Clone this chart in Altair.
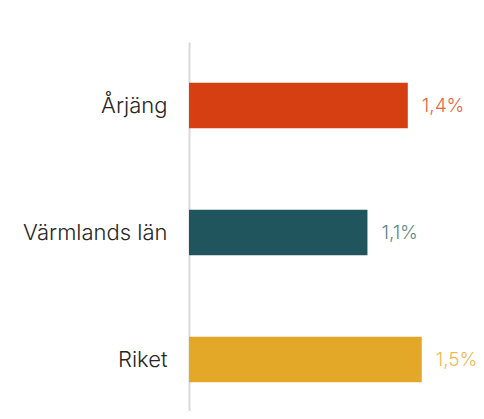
import altair as alt
import pandas as pd

categories = ["Årjäng", "Värmlands län", "Riket"]
values = [1.41, 1.15, 1.50]
labels = ["1,4%", "1,1%", "1,5%"]
bar_colors = ["#D63F11", "#20555E", "#E3A828"]
label_colors = ["#E8663F", "#5E8588", "#F0B854"]

df = pd.DataFrame({"cat": categories, "val": values, "lab": labels,
                   "bc": bar_colors, "lc": label_colors})

FONT = "Inter"

y = alt.Y("cat:N", sort=categories, title=None,
          scale=alt.Scale(paddingInner=0.64, paddingOuter=0.32, range=[0, 381]),
          axis=alt.Axis(domainColor="#d9d9d9", domainWidth=2, ticks=False,
                        labelFontSize=22, labelColor="#262626", labelFont=FONT,
                        labelFontWeight=300, labelPadding=22, grid=False))
x = alt.X("val:Q", title=None, scale=alt.Scale(domain=[0, 1.74], nice=False),
          axis=None)

bars = alt.Chart(df).mark_bar().encode(
    x=x, y=y, color=alt.Color("bc:N", scale=None))
text = alt.Chart(df).mark_text(align="left", dx=14, fontSize=19, font=FONT,
                               fontWeight=300, baseline="middle").encode(
    x=x, y=y, text="lab:N", color=alt.Color("lc:N", scale=None))

chart = (bars + text).properties(
    width=270, height=369,
    padding={"left": 181, "top": 34, "right": 17, "bottom": 0},
    autosize=alt.AutoSizeParams(type="none"),
).configure_view(stroke=None)

chart.save("out.html", embed_options={"renderer": "svg", "actions": False})
